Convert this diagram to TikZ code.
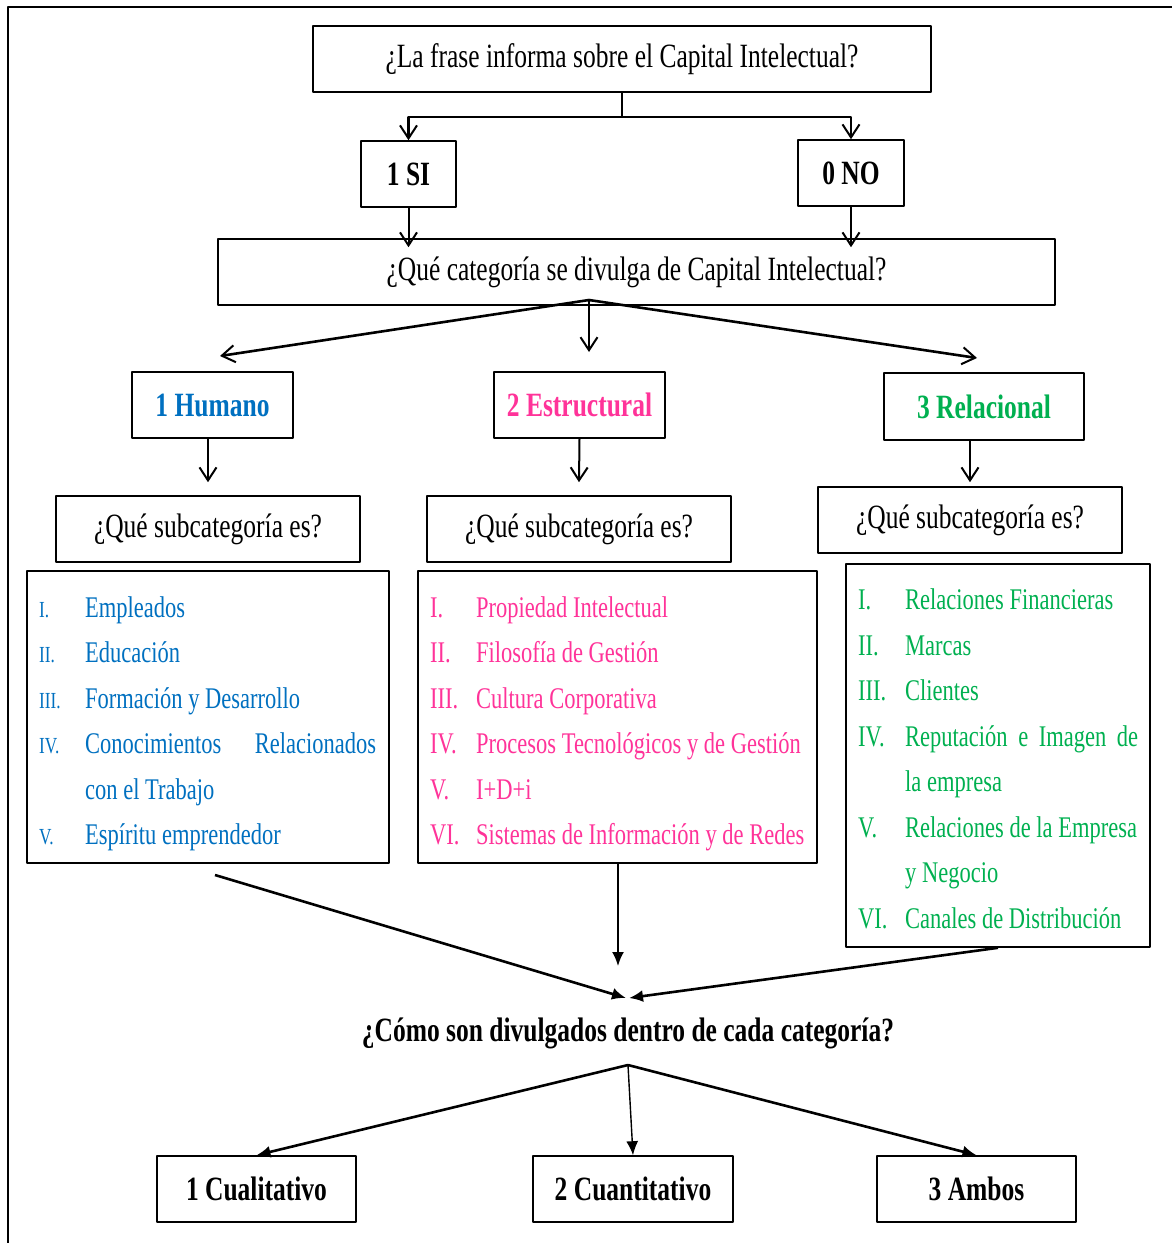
\documentclass[tikz,border=0pt]{standalone}
\usepackage{fontspec}
\setmainfont{Liberation Serif}[FakeStretch=0.75]
\usetikzlibrary{arrows.meta}
\definecolor{ink}{HTML}{000000}
\definecolor{humblue}{HTML}{0070C0}
\definecolor{estpink}{HTML}{FF3399}
\definecolor{relgreen}{HTML}{00B050}
\newcommand{\qsize}{\fontsize{34}{38}\selectfont}
\newcommand{\lsize}{\fontsize{30}{34}\selectfont}
\newcommand{\nsize}{\fontsize{23}{27}\selectfont}
\tikzset{
  every picture/.style = {font=\qsize, line join=round},
  box/.style   = {draw=ink, line width=1.6pt, inner sep=0pt},
  tag/.style   = {box, font=\qsize\bfseries},
  item/.style  = {anchor=base west, inner sep=0pt, font=\lsize},
  barb/.style  = {line width=2pt, -{Straight Barb[length=13pt, width=17pt, line width=2pt]}},
  head/.style  = {line width=2.6pt, -{Latex[length=14pt, width=12pt]}},
}

\begin{document}
\begin{tikzpicture}[x=1pt, y=-1pt]
  \useasboundingbox (0,0) rectangle (1172,1243);
  \draw[line width=2pt] (8,1243) -- (8,7) -- (1172,7);

  % first question and the yes / no answers
  \node[box, minimum width=618pt, minimum height=66pt] (frase) at (622,59)
    {¿La frase informa sobre el Capital Intelectual?};
  \node[tag, minimum width=95pt, minimum height=66pt] (si) at (408.5,174) {1 SI};
  \node[tag, minimum width=106pt, minimum height=66pt] (no) at (851,173) {0 NO};
  \draw[barb, line width=2.6pt] (frase.south) -- ++(0,24) -| (si.north);
  \draw[barb, line width=2.6pt] (frase.south) -- ++(0,24) -| (no.north);

  \node[box, minimum width=837pt, minimum height=66pt] (catq) at (636.5,272)
    {¿Qué categoría se divulga de Capital Intelectual?};
  \draw[barb, shorten >=-9pt] (si.south) -- (si.south |- catq.north);
  \draw[barb, shorten >=-9pt] (no.south) -- (no.south |- catq.north);

  % the three categories
  \node[tag, text=humblue, minimum width=161pt, minimum height=66pt] (hum) at (212.5,405) {1 Humano};
  \node[tag, text=estpink, minimum width=171pt, minimum height=66pt] (est) at (579.5,405) {2 Estructural};
  \node[tag, text=relgreen, minimum width=200pt, minimum height=67pt] (rel) at (984,406.5) {3 Relacional};

  \coordinate (catfork) at (589,300);
  \coordinate (humtip) at (220,356);
  \coordinate (esttip) at (589,352);
  \coordinate (reltip) at (977,358);
  \draw[barb, line width=2.6pt] (catfork) -- (humtip);
  \draw[barb] (catfork) -- (esttip);
  \draw[barb, line width=2.6pt] (catfork) -- (reltip);

  \node[box, minimum width=304pt, minimum height=66pt] (humsub) at (208,529) {¿Qué subcategoría es?};
  \node[box, minimum width=304pt, minimum height=66pt] (estsub) at (579,529) {¿Qué subcategoría es?};
  \node[box, minimum width=304pt, minimum height=66pt] (relsub) at (970,520) {¿Qué subcategoría es?};
  \draw[barb] (hum.south -| humsub.north) -- ([yshift=13pt]humsub.north);
  \draw[barb] (est.south) -- ([yshift=13pt]estsub.north);
  \draw[barb] (rel.south -| relsub.north) -- ([yshift=4pt]relsub.north);

  % subcategory lists
  \node[box, minimum width=362pt, minimum height=292pt] (humlist) at (208,717) {};
  \node[box, minimum width=399pt, minimum height=292pt] (estlist) at (617.5,717) {};
  \node[box, minimum width=304pt, minimum height=383pt] (rellist) at (998,755.5) {};

  \node[item, text=humblue] (h1) at (39,617) {\makebox[46pt][l]{\nsize I.}Empleados};
  \node[item, text=humblue] (h2) at (39,662) {\makebox[46pt][l]{\nsize II.}Educación};
  \node[item, text=humblue] (h3) at (39,708) {\makebox[46pt][l]{\nsize III.}Formación y Desarrollo};
  \node[item, text=humblue] (h4) at (39,753) {\makebox[46pt][l]{\nsize IV.}\makebox[291pt][s]{Conocimientos Relacionados}};
  \node[item, text=humblue] (h4b) at (85,799) {con el Trabajo};
  \node[item, text=humblue] (h5) at (39,844) {\makebox[46pt][l]{\nsize V.}Espíritu emprendedor};

  \node[item, text=estpink] (e1) at (430,617) {\makebox[46pt][l]{I.}Propiedad Intelectual};
  \node[item, text=estpink] (e2) at (430,662) {\makebox[46pt][l]{II.}Filosofía de Gestión};
  \node[item, text=estpink] (e3) at (430,708) {\makebox[46pt][l]{III.}Cultura Corporativa};
  \node[item, text=estpink] (e4) at (430,753) {\makebox[46pt][l]{IV.}Procesos Tecnológicos y de Gestión};
  \node[item, text=estpink] (e5) at (430,799) {\makebox[46pt][l]{V.}I+D+i};
  \node[item, text=estpink] (e6) at (430,844) {\makebox[46pt][l]{VI.}Sistemas de Información y de Redes};

  \node[item, text=relgreen] (r1) at (858,609) {\makebox[47pt][l]{I.}Relaciones Financieras};
  \node[item, text=relgreen] (r2) at (858,655) {\makebox[47pt][l]{II.}Marcas};
  \node[item, text=relgreen] (r3) at (858,700) {\makebox[47pt][l]{III.}Clientes};
  \node[item, text=relgreen] (r4) at (858,746) {\makebox[47pt][l]{IV.}\makebox[233pt][s]{Reputación e Imagen de}};
  \node[item, text=relgreen] (r4b) at (905,791) {la empresa};
  \node[item, text=relgreen] (r5) at (858,837) {\makebox[47pt][l]{V.}Relaciones de la Empresa};
  \node[item, text=relgreen] (r5b) at (905,882) {y Negocio};
  \node[item, text=relgreen] (r6) at (858,928) {\makebox[47pt][l]{VI.}Canales de Distribución};

  % everything meets at the last question
  \node[font=\qsize\bfseries] (how) at (628,1033) {¿Cómo son divulgados dentro de cada categoría?};
  \coordinate (humout) at (215,875);
  \coordinate (meetl) at (626,998);
  \coordinate (meetr) at (629,998);
  \coordinate (esttip2) at (618,966);
  \draw[head] (humout) -- (meetl);
  \draw[head, line width=2pt] (estlist.south -| esttip2) -- (esttip2);
  \draw[head] (rellist.south) -- (meetr);

  \node[tag, minimum width=199pt, minimum height=66pt] (cual) at (256.5,1189) {1 Cualitativo};
  \node[tag, minimum width=200pt, minimum height=66pt] (cuan) at (633,1189) {2 Cuantitativo};
  \node[tag, minimum width=199pt, minimum height=66pt] (amb) at (976.5,1189) {3 Ambos};

  \coordinate (howfork) at (628,1065);
  \draw[head] (howfork) -- (cual.north);
  \draw[head, line width=1.4pt] (howfork) -- (cuan.north);
  \draw[head] (howfork) -- (amb.north);
\end{tikzpicture}
\end{document}
